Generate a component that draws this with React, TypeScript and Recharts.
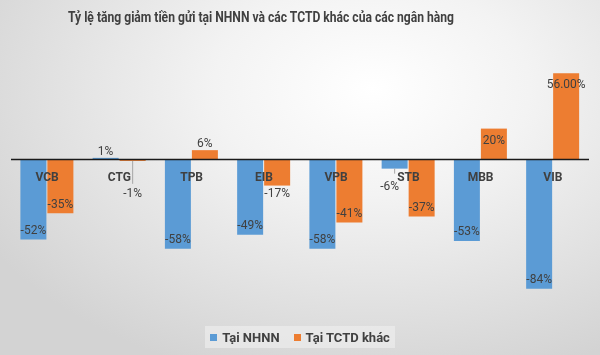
import React from 'react';
import { BarChart, Bar, XAxis, YAxis, ReferenceLine, LabelList } from 'recharts';

// Tỷ lệ tăng giảm tiền gửi (%)
const banks = ['VCB', 'CTG', 'TPB', 'EIB', 'VPB', 'STB', 'MBB', 'VIB'];
const taiNHNN = [-52, 1, -58, -49, -58, -6, -53, -84];
const taiTCTD = [-35, -1, 6, -17, -41, -37, 20, 56];
const tctdLabels = ['-35%', '-1%', '6%', '-17%', '-41%', '-37%', '20%', '56.00%'];

const BLUE = '#5b9bd5';
const ORANGE = '#ed7d31';
const TEXT = '#404040';
const FONT = 'Roboto, "Noto Sans", sans-serif';

const W = 600;
const H = 355;
const MARGIN = { top: 67, right: 11, bottom: 56, left: 11 };
const Y_MIN = -90;
const Y_MAX = 60;
// vi tri duong 0 suy ra tu domain + margin
const ZERO_Y = MARGIN.top + (Y_MAX / (Y_MAX - Y_MIN)) * (H - MARGIN.top - MARGIN.bottom);

const data = banks.map((b, i) => ({ bank: b, nhnn: taiNHNN[i], tctd: taiTCTD[i] }));

// nhan du lieu: ben trong dau cot neu cot dai, ben ngoai neu cot ngan
const makeLabel = (texts: string[]) => (props: any) => {
  const { x, y, width, height, value, index } = props;
  const top = Math.min(y, y + height);
  const bottom = Math.max(y, y + height);
  const cx = x + width / 2;
  let cy: number;
  let tx = cx;
  let leader: [number, number] | null = null;
  if (value >= 20) cy = top + 11;
  else if (value > 0) cy = top - 7;
  else if (value <= -20) cy = bottom - 10;
  else if (value <= -10) cy = bottom + 7;
  else if (value > -3) {
    cy = ZERO_Y + 33;
    leader = [bottom, ZERO_Y + 24];
  } else {
    cy = bottom + 17;
    tx = cx - 5;
    leader = [bottom, bottom + 5];
  }
  return (
    <g>
      {leader && <line x1={cx} x2={cx} y1={leader[0]} y2={leader[1]} stroke="#a6a6a6" strokeWidth={1} />}
      <text x={tx} y={cy} dy="0.35em" textAnchor="middle" fill={TEXT} fontSize={12} fontFamily={FONT}>
        {texts[index]}
      </text>
    </g>
  );
};

const BankTick = (props: any) => {
  const { x, payload } = props;
  return (
    <text x={x} y={ZERO_Y + 17} dy="0.35em" textAnchor="middle" fill={TEXT} fontSize={12} fontWeight={700} fontFamily={FONT}>
      {payload.value}
    </text>
  );
};

export default function App() {
  return (
    <div
      style={{
        position: 'fixed', left: 0, top: 0, width: W, height: H, overflow: 'hidden',
        background: 'radial-gradient(ellipse 75% 85% at 62% 25%, #ffffff 0%, #f3f3f3 35%, #d3d3d3 100%)',
        fontFamily: FONT,
      }}
    >
      <svg width={W} height={40} style={{ position: 'absolute', left: 0, top: 0 }}>
        <text x={261} y={17} dy="0.35em" textAnchor="middle" fill={TEXT} fontSize={15} fontWeight={700}
          fontFamily={FONT} textLength={386} lengthAdjust="spacingAndGlyphs">
          Tỷ lệ tăng giảm tiền gửi tại NHNN và các TCTD khác của các ngân hàng
        </text>
      </svg>
      <div style={{ position: 'absolute', left: 0, top: 0 }}>
        <BarChart width={W} height={H} data={data} margin={MARGIN} barGap={1} barCategoryGap="13%">
          <XAxis dataKey="bank" axisLine={false} tickLine={false} tick={<BankTick />} height={1} />
          <YAxis hide domain={[Y_MIN, Y_MAX]} />
          <Bar dataKey="nhnn" fill={BLUE} isAnimationActive={false}>
            <LabelList dataKey="nhnn" content={makeLabel(taiNHNN.map(v => `${v}%`))} />
          </Bar>
          <Bar dataKey="tctd" fill={ORANGE} isAnimationActive={false}>
            <LabelList dataKey="tctd" content={makeLabel(tctdLabels)} />
          </Bar>
          <ReferenceLine y={0} stroke="#1a1a1a" strokeWidth={1.5} />
        </BarChart>
      </div>
      <div
        style={{
          position: 'absolute', left: 205, top: 326, width: 190, height: 22,
          background: 'rgba(240,240,240,0.6)', display: 'flex', alignItems: 'center', justifyContent: 'center',
          gap: 14, fontSize: 13, fontWeight: 700, color: TEXT, whiteSpace: 'nowrap',
        }}
      >
        <span style={{ display: 'flex', alignItems: 'center', gap: 5 }}>
          <span style={{ width: 7, height: 7, background: BLUE, display: 'inline-block' }} />Tại NHNN
        </span>
        <span style={{ display: 'flex', alignItems: 'center', gap: 5 }}>
          <span style={{ width: 7, height: 7, background: ORANGE, display: 'inline-block' }} />Tại TCTD khác
        </span>
      </div>
    </div>
  );
}
